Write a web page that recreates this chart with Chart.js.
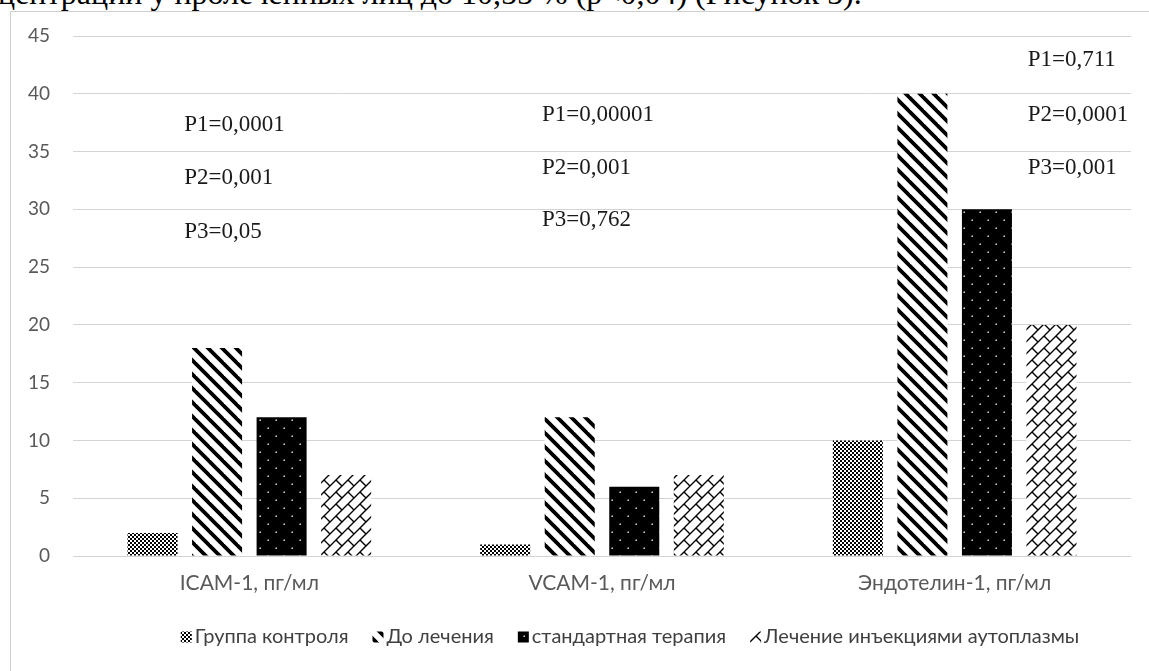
<!DOCTYPE html>
<html>
<head>
<meta charset="utf-8">
<script src="https://cdn.jsdelivr.net/npm/chart.js@4.4.1/dist/chart.umd.min.js"></script>
<style>
  html, body { margin: 0; padding: 0; background: #fff; width: 1149px; height: 671px; overflow: hidden; }
  #lead { position: absolute; left: -2px; top: -23px; font: 32px/32px "Liberation Serif", "Times New Roman", serif; color: #000; white-space: nowrap; }
  #frame { position: absolute; left: 10px; top: 11px; width: 1170px; height: 700px; border: 1px solid #cfcfcf; box-sizing: border-box; }
  #wrap { position: absolute; left: 0; top: 0; width: 1149px; height: 671px; }
</style>
</head>
<body>
<div id="lead">центрации у пролеченных лиц до 10,55 % (р&lt;0,04) (Рисунок 5).</div>
<div id="frame"></div>
<div id="wrap"><canvas id="chart"></canvas></div>
<script>
// Markers, pg/ml
const categories = ['ICAM-1, пг/мл', 'VCAM-1, пг/мл', 'Эндотелин-1, пг/мл'];
const seriesNames = ['Группа контроля', 'До лечения', 'стандартная терапия', 'Лечение инъекциями аутоплазмы'];
const controlGroup = [2, 1, 10];
const beforeTreatment = [18, 12, 40];
const standardTherapy = [12, 6, 30];
const autoplasmaTherapy = [7, 7, 20];
const yTicks = [0, 5, 10, 15, 20, 25, 30, 35, 40, 45];

// significance notes per category
const pNotes = [
  ['P1=0,0001', 'P2=0,001', 'P3=0,05'],
  ['P1=0,00001', 'P2=0,001', 'P3=0,762'],
  ['P1=0,711', 'P2=0,0001', 'P3=0,001']
];
// where each note block sits: horizontal shift from the category centre (px), and value levels
const pNoteShift = [-65, -60, 73];
const pNoteLevels = [
  [37.3, 32.7, 28.0],
  [38.2, 33.6, 29.1],
  [42.9, 38.2, 33.6]
];

const sans = 'Lato, "Liberation Sans", Arial, sans-serif';
const serif = '"Liberation Serif", "Times New Roman", serif';

// ---- fill patterns ----
function tilePattern(size, draw) {
  const c = document.createElement('canvas');
  c.width = size; c.height = size;
  const g = c.getContext('2d');
  draw(g, size);
  return g.createPattern(c, 'repeat');
}
const checkerFill = tilePattern(4, (g) => {
  g.fillStyle = '#fff'; g.fillRect(0, 0, 4, 4);
  g.fillStyle = '#000'; g.fillRect(0, 0, 2, 2); g.fillRect(2, 2, 2, 2);
});
const stripeFill = tilePattern(14, (g, s) => {
  g.fillStyle = '#fff'; g.fillRect(0, 0, s, s);
  g.strokeStyle = '#000'; g.lineWidth = 3.8; g.lineCap = 'square';
  for (const k of [-s, 0, s]) {
    g.beginPath(); g.moveTo(k - 2, -2); g.lineTo(k + s + 2, s + 2); g.stroke();
  }
});
const dottedFill = tilePattern(16, (g, s) => {
  g.fillStyle = '#000'; g.fillRect(0, 0, s, s);
  g.fillStyle = '#fff';
  g.fillRect(3.5, 3.5, 1.4, 1.4); g.fillRect(11.5, 11.5, 1.4, 1.4);
});
// shingle: rising strokes joined by short alternating falling ticks
const shingleFill = tilePattern(24, (g, s) => {
  g.fillStyle = '#fff'; g.fillRect(0, 0, s, s);
  g.strokeStyle = '#000'; g.lineWidth = 1.4;
  g.beginPath();
  for (const c of [0, 12, 24, 36, 48]) { g.moveTo(c + 2, -2); g.lineTo(c - 26, 26); }
  g.moveTo(0, 0); g.lineTo(6, 6);
  g.moveTo(12, 12); g.lineTo(18, 18);
  g.moveTo(12, 0); g.lineTo(18, 6);
  g.moveTo(0, 12); g.lineTo(6, 18);
  g.stroke();
});
const fills = [checkerFill, stripeFill, dottedFill, shingleFill];

const seriesValues = [controlGroup, beforeTreatment, standardTherapy, autoplasmaTherapy];
const datasets = seriesValues.map((vals, i) => ({
  label: seriesNames[i],
  data: vals,
  backgroundColor: fills[i],
  borderWidth: 0,
  categoryPercentage: 0.732,
  barPercentage: 0.775
}));

// p-value notes drawn over the plot
const pNotePlugin = {
  id: 'pNotes',
  afterDatasetsDraw(chart) {
    const { ctx, scales: { x, y } } = chart;
    ctx.save();
    ctx.font = '23px ' + serif;
    ctx.fillStyle = '#1a1a1a';
    ctx.textAlign = 'left';
    ctx.textBaseline = 'middle';
    pNotes.forEach((lines, ci) => {
      const px = x.getPixelForValue(ci) + pNoteShift[ci];
      lines.forEach((t, li) => ctx.fillText(t, px, y.getPixelForValue(pNoteLevels[ci][li])));
    });
    ctx.restore();
  }
};

// legend row along the bottom of the frame
const legendRow = {
  id: 'legendRow',
  afterDraw(chart) {
    const { ctx } = chart;
    const box = 11, gapBox = 3, gapItem = 24;
    const centreX = 630, rowY = 637;
    ctx.save();
    ctx.font = '20px ' + sans;
    ctx.textBaseline = 'middle';
    const widths = chart.data.datasets.map(d => ctx.measureText(d.label).width);
    const total = widths.reduce((a, w) => a + box + gapBox + w, 0) + gapItem * (widths.length - 1);
    let cx = centreX - total / 2;
    chart.data.datasets.forEach((d, i) => {
      ctx.fillStyle = d.backgroundColor;
      ctx.fillRect(cx, rowY - box / 2, box, box);
      cx += box + gapBox;
      ctx.fillStyle = '#404040';
      ctx.fillText(d.label, cx, rowY);
      cx += widths[i] + gapItem;
    });
    ctx.restore();
  }
};

new Chart(document.getElementById('chart'), {
  type: 'bar',
  data: { labels: categories, datasets },
  options: {
    responsive: true,
    maintainAspectRatio: false,
    animation: false,
    layout: { padding: { top: 36, right: 18, bottom: 75, left: 0 } },
    plugins: {
      legend: { display: false },
      tooltip: { enabled: false }
    },
    scales: {
      x: {
        grid: { display: false, drawTicks: false },
        border: { display: false },
        ticks: { color: '#595959', font: { family: sans, size: 21 }, padding: 15 },
        afterFit(scale) { scale.height = 40; }
      },
      y: {
        min: 0, max: 45,
        afterBuildTicks(scale) { scale.ticks = yTicks.map(v => ({ value: v })); },
        grid: { color: '#d4d4d4', lineWidth: 1, drawTicks: false },
        border: { display: false },
        ticks: { color: '#595959', font: { family: sans, size: 19 }, padding: 23 },
        afterFit(scale) { scale.width = 73; }
      }
    }
  },
  plugins: [pNotePlugin, legendRow]
});
</script>
</body>
</html>
